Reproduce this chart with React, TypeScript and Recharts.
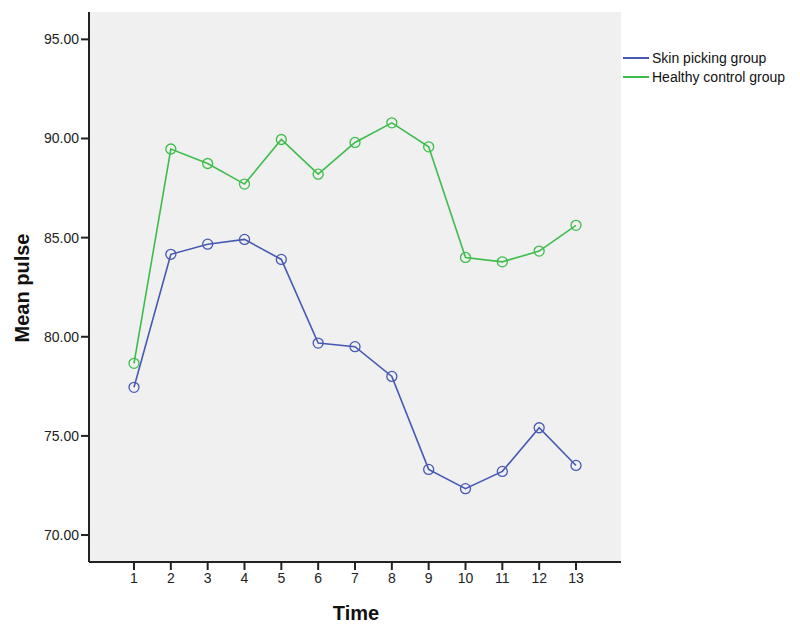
import { LineChart, Line, XAxis, YAxis, CartesianGrid } from 'recharts';

const times = [1, 2, 3, 4, 5, 6, 7, 8, 9, 10, 11, 12, 13];
const skinPicking = [77.45, 84.16, 84.67, 84.91, 83.9, 79.68, 79.5, 78.0, 73.31, 72.34, 73.21, 75.41, 73.51];
const healthyControl = [78.66, 89.47, 88.74, 87.7, 89.95, 88.2, 89.8, 90.79, 89.58, 84.0, 83.78, 84.32, 85.62];
const yTicks = [70, 75, 80, 85, 90, 95];

const series = [
  { key: 'skin', name: 'Skin picking group', color: '#4659b3' },
  { key: 'healthy', name: 'Healthy control group', color: '#3cbd4a' },
];

const data = times.map((t, i) => ({ time: t, skin: skinPicking[i], healthy: healthyControl[i] }));

const font = '"Liberation Sans", Arial, sans-serif';

function LegendBox() {
  return (
    <div style={{ position: 'absolute', left: 623, top: 48, fontFamily: font, fontSize: 14, color: '#111' }}>
      {series.map((s) => (
        <div key={s.key} style={{ display: 'flex', alignItems: 'center', height: 19 }}>
          <div style={{ width: 26, height: 2, background: s.color, marginRight: 3 }} />
          <span>{s.name}</span>
        </div>
      ))}
    </div>
  );
}

export default function App() {
  return (
    <div style={{ position: 'absolute', left: 0, top: 0, width: 800, height: 632, background: '#fff' }}>
      <LineChart
        width={800}
        height={632}
        data={data}
        margin={{ top: 12, right: 179, bottom: 40, left: 29 }}
      >
        <CartesianGrid fill="#f0f0f0" horizontal={false} vertical={false} />
        <XAxis
          xAxisId="top"
          orientation="top"
          dataKey="time"
          type="number"
          domain={[1, 13]}
          padding={{ left: 45, right: 45 }}
          height={0}
          tick={false}
          tickLine={false}
          axisLine={{ stroke: '#666', strokeWidth: 1 }}
        />
        <YAxis
          yAxisId="right"
          orientation="right"
          domain={[68.64, 96.38]}
          width={0}
          tick={false}
          tickLine={false}
          axisLine={{ stroke: '#666', strokeWidth: 1 }}
        />
        <XAxis
          dataKey="time"
          type="number"
          domain={[1, 13]}
          ticks={times}
          interval={0}
          padding={{ left: 45, right: 45 }}
          height={30}
          tickSize={8}
          tickMargin={3}
          axisLine={{ stroke: '#222', strokeWidth: 2 }}
          tickLine={{ stroke: '#222', strokeWidth: 2 }}
          tick={{ fill: '#222', fontSize: 14, fontFamily: font }}
        />
        <YAxis
          domain={[68.64, 96.38]}
          ticks={yTicks}
          interval={0}
          width={60}
          tickSize={8}
          tickMargin={2}
          tickFormatter={(v: number) => v.toFixed(2)}
          axisLine={{ stroke: '#222', strokeWidth: 2 }}
          tickLine={{ stroke: '#222', strokeWidth: 2 }}
          tick={{ fill: '#222', fontSize: 14, fontFamily: font }}
        />
        {series.map((s) => (
          <Line
            key={s.key}
            dataKey={s.key}
            name={s.name}
            stroke={s.color}
            strokeWidth={1.6}
            type="linear"
            dot={{ r: 5, stroke: s.color, strokeWidth: 1.3, fill: 'none' }}
            activeDot={false}
            isAnimationActive={false}
          />
        ))}
      </LineChart>
      <LegendBox />
      <div
        style={{
          position: 'absolute',
          left: 22,
          top: 288,
          transform: 'translate(-50%, -50%) rotate(-90deg)',
          fontFamily: font,
          fontWeight: 'bold',
          fontSize: 20,
          color: '#111',
          whiteSpace: 'nowrap',
        }}
      >
        Mean pulse
      </div>
      <div
        style={{
          position: 'absolute',
          left: 356,
          top: 613,
          transform: 'translate(-50%, -50%)',
          fontFamily: font,
          fontWeight: 'bold',
          fontSize: 20,
          color: '#111',
        }}
      >
        Time
      </div>
    </div>
  );
}
